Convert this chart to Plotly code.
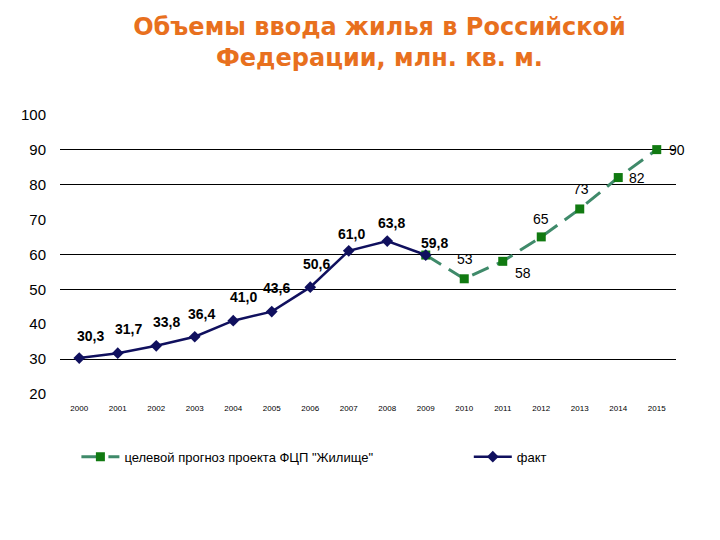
import plotly.graph_objects as go

# данные
years = [str(y) for y in range(2000, 2016)]
fact_years = years[:10]
fact_vals = [30.3, 31.7, 33.8, 36.4, 41.0, 43.6, 50.6, 61.0, 63.8, 59.8]
fact_text = ["30,3", "31,7", "33,8", "36,4", "41,0", "43,6", "50,6", "61,0", "63,8", "59,8"]
plan_years = years[9:]
plan_vals = [59.8, 53, 58, 65, 73, 82, 90]
plan_text = ["", "53", "58", "65", "73", "82", "90"]
grid_vals = [30, 50, 60, 80, 90, 100]
y_ticks = [20, 30, 40, 50, 60, 70, 80, 90, 100]

# label offsets (px) as in the original slide
fact_dx = [11, 11, 10, 7, 10, 5, 6, 3, 4, 9]
fact_dy = [22, 24, 24, 23, 24, 24, 23, 17, 18, 12]
plan_dx = [0, 1, 20, 0, 1, 19, 20]
plan_dy = [0, 20, -12, 18, 20, 0, 0]

fig = go.Figure()
fig.add_trace(go.Scatter(
    x=plan_years, y=plan_vals, mode="lines+markers",
    name='целевой прогноз проекта ФЦП "Жилище"', legend="legend",
    line=dict(color="#3f8a6a", width=3, dash="18px,9px"),
    marker=dict(symbol="square", size=9, color="#117a11"),
))
fig.add_trace(go.Scatter(
    x=fact_years, y=fact_vals, mode="lines+markers",
    name="факт", legend="legend2",
    line=dict(color="#10105e", width=2.5),
    marker=dict(symbol="diamond", size=9, color="#10105e"),
))
# only some gridlines are drawn in the original -> separate overlay axis
fig.add_trace(go.Scatter(x=[years[0]], y=[None], yaxis="y2", showlegend=False,
                         hoverinfo="skip"))

# annotations on a category axis: use the category index
for x, y, t, dx, dy in zip(fact_years, fact_vals, fact_text, fact_dx, fact_dy):
    fig.add_annotation(x=years.index(x), y=y, text="<b>" + t + "</b>", showarrow=False,
                       xshift=dx, yshift=dy,
                       font=dict(size=14, color="black", family="Liberation Sans"))
for x, y, t, dx, dy in zip(plan_years, plan_vals, plan_text, plan_dx, plan_dy):
    if t:
        fig.add_annotation(x=years.index(x), y=y, text=t, showarrow=False,
                           xshift=dx, yshift=dy,
                           font=dict(size=14, color="black", family="Liberation Sans"))

fig.update_layout(
    width=720, height=540,
    plot_bgcolor="white", paper_bgcolor="white",
    margin=dict(l=52, r=52, t=106, b=154, autoexpand=False),
    font=dict(family="Liberation Sans", size=13, color="black"),
    title=dict(text="<b>Объемы ввода жилья в Российской<br>Федерации, млн. кв. м.</b>",
               x=0.516, xanchor="center", y=0.95, yanchor="top",
               font=dict(size=24, color="#e8701e", family="DejaVu Sans")),
    legend=dict(xref="container", yref="container", x=0.095, y=0.169,
                xanchor="left", yanchor="middle", font=dict(size=13), itemwidth=38),
    legend2=dict(xref="container", yref="container", x=0.64, y=0.169,
                 xanchor="left", yanchor="middle", font=dict(size=13), itemwidth=38),
    showlegend=True,
)
fig.update_xaxes(type="category", categoryorder="array", categoryarray=years,
                 range=[-0.5, 15.5], showgrid=False, showline=False,
                 ticklabelstandoff=8, tickfont=dict(size=8, family="Liberation Sans"))
fig.update_layout(
    yaxis=dict(range=[20, 100.2], tickvals=y_ticks, showgrid=False, zeroline=False,
               showline=False, tickfont=dict(size=15), ticks="", ticklabelstandoff=13),
    yaxis2=dict(range=[20, 100.2], overlaying="y", tickvals=grid_vals, showgrid=True,
                gridcolor="black", gridwidth=1.3, showticklabels=False,
                zeroline=False, layer="below traces"),
)
fig.write_html("out.html")
